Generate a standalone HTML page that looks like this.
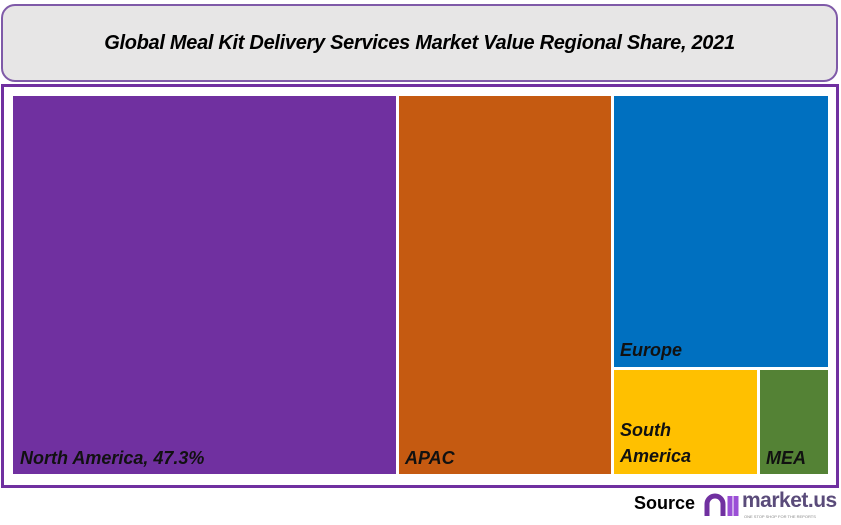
<!DOCTYPE html>
<html><head><style>
body{margin:0;width:841px;height:525px;background:#fff;position:relative;overflow:hidden;font-family:"Liberation Sans",sans-serif}
.t{position:absolute;left:1px;top:4px;width:837px;height:78px;background:#e7e6e6;border:2px solid #7f5aa8;border-radius:14px;box-sizing:border-box;display:flex;align-items:center;justify-content:center;font-style:italic;font-weight:bold;font-size:20px;color:#000;letter-spacing:-0.3px}
.box{position:absolute;left:1px;top:84px;width:838px;height:404px;border:3px solid #7030a0;box-sizing:border-box}
.r{position:absolute;box-sizing:border-box}
.l{position:absolute;font-style:italic;font-weight:bold;font-size:18px;color:#111;line-height:26px}
</style></head><body>
<div class="t">Global Meal Kit Delivery Services Market Value Regional Share, 2021</div>
<div class="box"></div>
<div class="r" style="left:13px;top:96px;width:383px;height:378px;background:#7030a0"></div>
<div class="r" style="left:399px;top:96px;width:212px;height:378px;background:#c55a11"></div>
<div class="r" style="left:614px;top:96px;width:214px;height:271px;background:#0070c0"></div>
<div class="r" style="left:614px;top:370px;width:143px;height:104px;background:#ffc000"></div>
<div class="r" style="left:760px;top:370px;width:68px;height:104px;background:#548235"></div>
<div class="l" style="left:20px;top:445px">North America, 47.3%</div>
<div class="l" style="left:405px;top:445px">APAC</div>
<div class="l" style="left:620px;top:337px">Europe</div>
<div class="l" style="left:620px;top:417px">South<br>America</div>
<div class="l" style="left:766px;top:445px">MEA</div>
<div style="position:absolute;left:634px;top:493px;font-weight:bold;font-size:18px">Source</div>
<svg style="position:absolute;left:703px;top:490px" width="38" height="32" viewBox="0 0 38 32">
<path d="M4 26 V14 a8 8 0 0 1 16 0 V26" fill="none" stroke="#7030a0" stroke-width="5"/>
<path d="M27 6 V26 M33 6 V26" stroke="#9b4fd6" stroke-width="5"/>
</svg>
<div style="position:absolute;left:742px;top:489px;font-weight:bold;font-size:21px;color:#5a4b7a;letter-spacing:-0.5px">market.us</div>
<div style="position:absolute;left:744px;top:514px;font-size:4px;color:#888;white-space:nowrap">ONE STOP SHOP FOR THE REPORTS</div>
</body></html>
